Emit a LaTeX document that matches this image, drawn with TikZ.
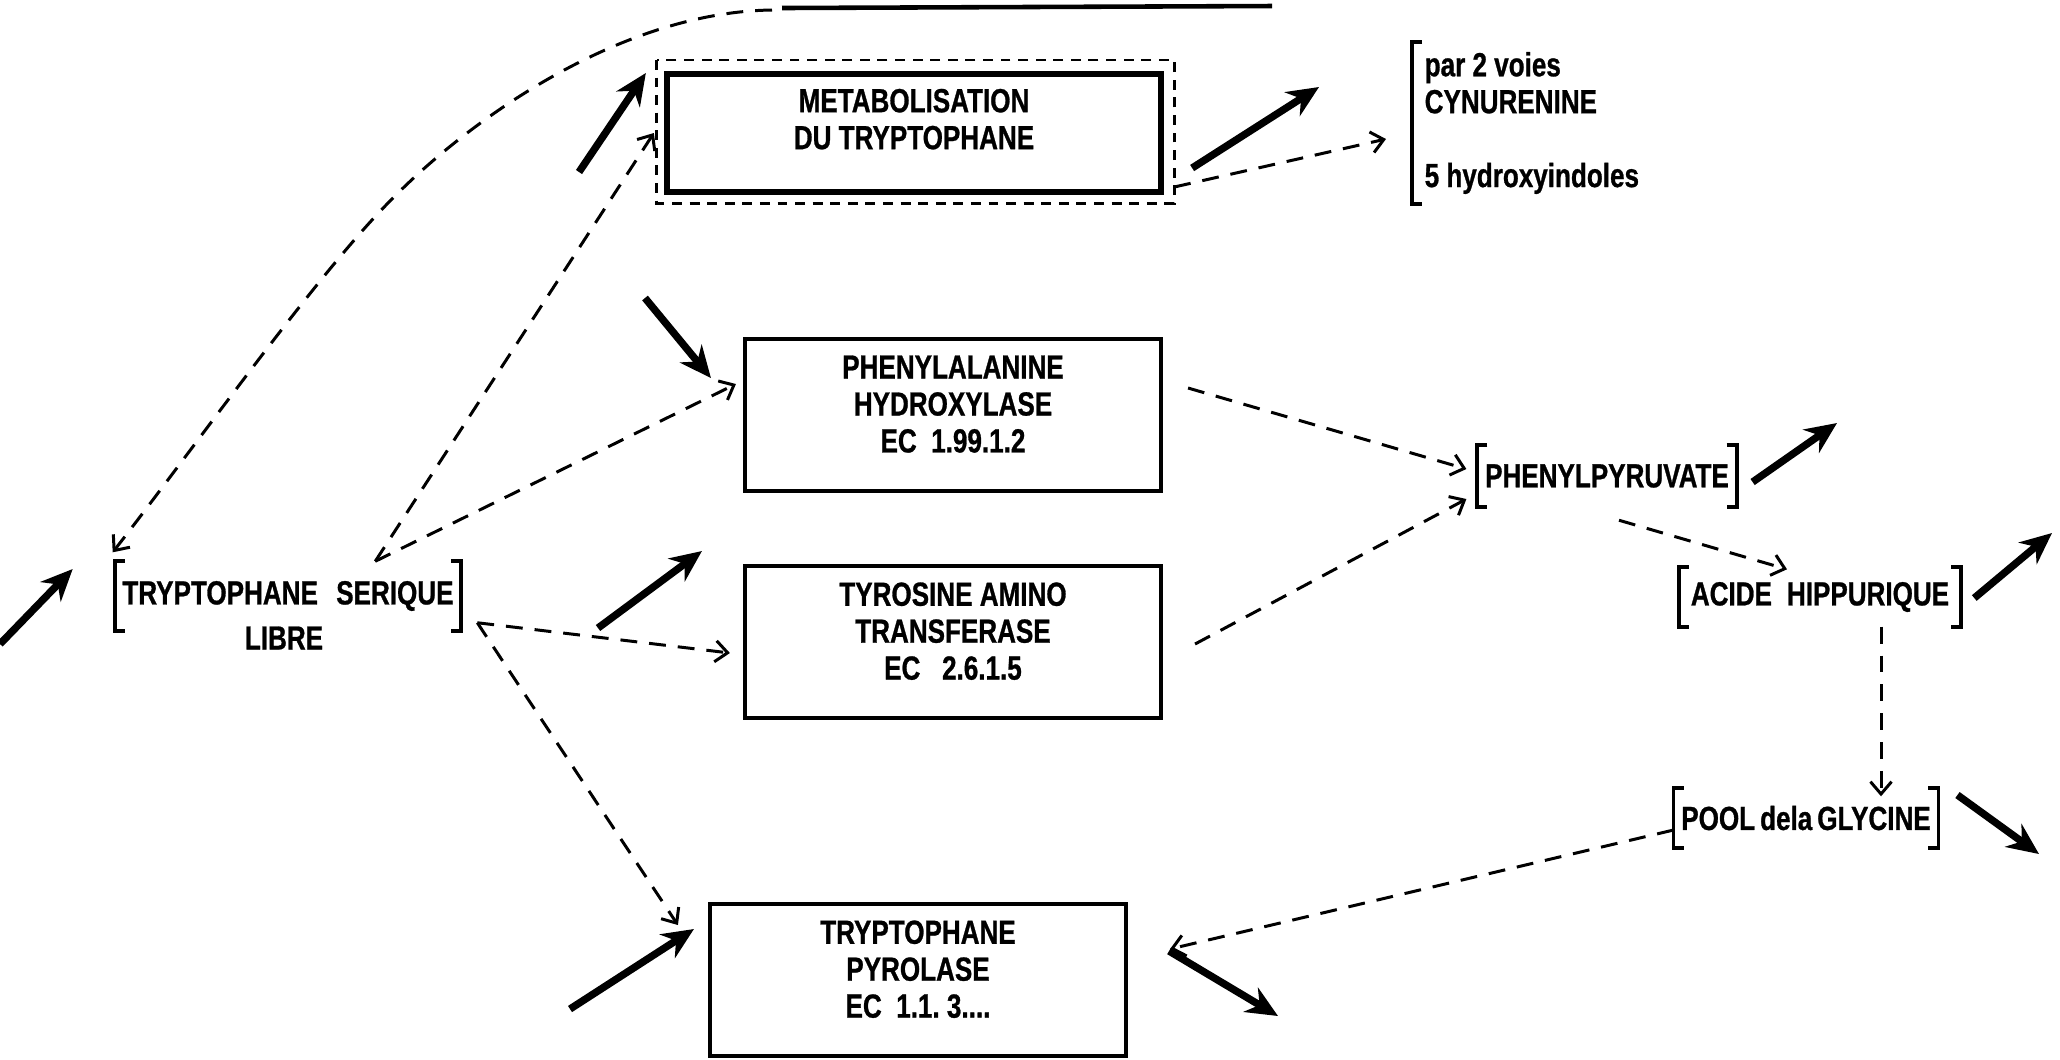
\documentclass[tikz,border=0pt]{standalone}
\usepackage{fontspec}
\setmainfont{Liberation Sans}[FakeStretch=0.78,BoldFeatures={FakeBold=0.8}]
\usetikzlibrary{arrows.meta,positioning}

\tikzset{
    enzyme/.style={rectangle,draw,line width=1.1pt,minimum width=4.16cm,minimum height=1.52cm,align=center,text depth=0.22cm},
    pool/.style={inner xsep=2pt,minimum height=0.58cm,align=center},
    brk/.style={line width=1.1pt},
    flux/.style={-{Stealth[length=9pt,width=8pt]},line width=2.1pt},
    lien/.style={-{Straight Barb[length=3.5pt,width=6pt]},line width=0.85pt,dash pattern=on 4.8pt off 3.4pt},
    pointille/.style={line width=0.85pt,dash pattern=on 2.8pt off 2.2pt}
}

% crochets [ ] autour d'un noeud
\newcommand{\crochets}[1]{%
    \draw[brk] ([xshift=0.1cm]#1.north west) -- (#1.north west) -- (#1.south west) -- ++(0.1cm,0);
    \draw[brk] ([xshift=-0.1cm]#1.north east) -- (#1.north east) -- (#1.south east) -- ++(-0.1cm,0);}

\begin{document}
\begin{tikzpicture}[x=0.01cm,y=-0.01cm,
    every node/.append style={font=\fontsize{9.5}{10.5}\selectfont\bfseries}]
    \useasboundingbox (0,0) rectangle (2060,1059);

    % titre (coupe)
    \coordinate (soulA) at (782,8);
    \coordinate (soulB) at (1272,6);
    \coordinate (titre) at (772,10);
    \draw[line width=1.3pt] (soulA) -- (soulB);

    % Serum
    \node[pool,minimum width=3.4cm,minimum height=0.68cm] (serique) at (288,596) {TRYPTOPHANE\hspace{0.55em}SERIQUE};
    \node (libre) at (284,638) {LIBRE};
    \crochets{serique}

    % Enzymes
    \node[enzyme,line width=1.7pt,minimum width=4.94cm,minimum height=1.18cm,text depth=0.28cm] (meta) at (914,133) {METABOLISATION\\DU TRYPTOPHANE};
    \draw[pointille] ([shift={(-7,-11)}]meta.north west) rectangle ([shift={(10,8)}]meta.south east);
    \node[enzyme] (phen) at (953,415) {PHENYLALANINE\\HYDROXYLASE\\EC\ \ 1.99.1.2};
    \node[enzyme] (tyro) at (953,642) {TYROSINE AMINO\\TRANSFERASE\\EC\ \ \ 2.6.1.5};
    \node[enzyme] (pyro) at (918,980) {TRYPTOPHANE\\PYROLASE\\EC\ \ 1.1.\ 3....};

    % Produits
    \node[anchor=west,align=left,minimum height=1.61cm,inner xsep=0.12cm,inner ysep=0pt] (voies) at (1412,123) {par 2 voies\\CYNURENINE\\[10.5pt]5 hydroxyindoles};
    \draw[brk] ([xshift=0.1cm]voies.north west) -- (voies.north west) -- (voies.south west) -- ++(0.1cm,0);
    \node[pool,minimum width=2.55cm,minimum height=0.61cm] (phpyr) at (1607,476) {PHENYLPYRUVATE};
    \crochets{phpyr}
    \node[pool,minimum width=2.81cm] (hipp) at (1820,597) {ACIDE\hspace{0.45em}HIPPURIQUE};
    \crochets{hipp}
    \node[pool,minimum width=2.54cm] (glycine) at (1806,818) {POOL\hspace{0.15em}dela\hspace{0.15em}GLYCINE};
    \crochets{glycine}

    % fleches epaisses
    \coordinate (f1) at (0,644);
    \coordinate (f2) at (579,172);
    \coordinate (f3) at (1319,87);
    \coordinate (f4) at (645,298);
    \coordinate (f5) at (598,628);
    \coordinate (f6) at (570,1009);
    \coordinate (f7) at (1278,1016);
    \coordinate (f8) at (1837,423);
    \coordinate (f9) at (2052,533);
    \coordinate (f10) at (2039,854);
    \draw[flux] (f1) -- ([shift={(-42,-27)}]serique.west);
    \draw[flux] (f2) -- ([shift={(-18,2)}]meta.north west);
    \draw[flux] ([shift={(28,35)}]meta.east) -- (f3);
    \draw[flux] (f4) -- ([shift={(-32,41)}]phen.north west);
    \draw[flux] (f5) -- ([shift={(-41,-13)}]tyro.north west);
    \draw[flux] (f6) -- ([shift={(-14,-51)}]pyro.west);
    \draw[flux] ([shift={(41,-29)}]pyro.east) -- (f7);
    \draw[flux] ([shift={(16,6)}]phpyr.east) -- (f8);
    \draw[flux] ([shift={(13,1)}]hipp.east) -- (f9);
    \draw[flux] ([shift={(19,-23)}]glycine.east) -- (f10);

    % liens en tirets
    \draw[lien] ([xshift=-0.86cm]serique.north east) -- ([xshift=-0.1cm]meta.west);
    \draw[lien] ([xshift=-0.86cm]serique.north east) -- ([shift={(-7,-31)}]phen.west);
    \draw[lien] ([shift={(16,-8)}]serique.south east) -- ([shift={(-13,11)}]tyro.west);
    \draw[lien] ([shift={(16,-8)}]serique.south east) -- ([shift={(-30,23)}]pyro.north west);
    \draw[lien] ([shift={(10,-8)}]meta.south east) -- ([shift={(-26,16)}]voies.west);
    \draw[lien] ([shift={(25,-27)}]phen.east) -- ([shift={(-11,-7)}]phpyr.west);
    \draw[lien] ([shift={(32,2)}]tyro.east) -- ([shift={(-11,23)}]phpyr.west);
    \draw[lien] ([shift={(12,13)}]phpyr.south) -- ([shift={(-33,2)}]hipp.north);
    \draw[lien] ([shift={(61,0)}]hipp.south) -- ([shift={(75,8)}]glycine.north);
    \draw[lien] ([shift={(0,12)}]glycine.west) -- ([shift={(42,-31)}]pyro.east);
    \draw[lien] (titre) .. controls (620,12) and (470,120) .. (394,197)
        .. controls (320,270) and (200,440) .. ([shift={(-2,-9)}]serique.north west);
\end{tikzpicture}
\end{document}
